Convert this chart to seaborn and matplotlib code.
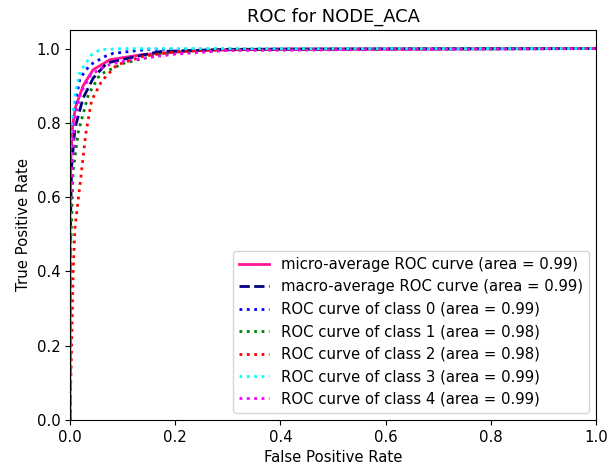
import numpy as np
import pandas as pd
import matplotlib
matplotlib.use('Agg')
import matplotlib.pyplot as plt
import seaborn as sns

# 读图估计的ROC曲线点 (FPR, TPR)
micro_fpr = [0.0, 0.0, 0.002, 0.005, 0.01, 0.025, 0.044, 0.076, 0.139, 0.25, 0.4, 1.0]
micro_tpr = [0.0, 0.55, 0.72, 0.79, 0.84, 0.90, 0.943, 0.97, 0.984, 0.995, 0.999, 1.0]

macro_fpr = [0.0, 0.0, 0.003, 0.0095, 0.025, 0.044, 0.07, 0.127, 0.171, 0.3, 1.0]
macro_tpr = [0.0, 0.45, 0.68, 0.786, 0.867, 0.92, 0.961, 0.979, 0.992, 0.998, 1.0]

class0_fpr = [0.0, 0.0, 0.003, 0.008, 0.019, 0.038, 0.067, 0.082, 0.15, 1.0]
class0_tpr = [0.0, 0.55, 0.75, 0.84, 0.92, 0.956, 0.979, 0.987, 0.998, 1.0]

class1_fpr = [0.0, 0.0, 0.006, 0.016, 0.035, 0.057, 0.101, 0.171, 0.3, 1.0]
class1_tpr = [0.0, 0.4, 0.67, 0.777, 0.876, 0.93, 0.96, 0.984, 0.996, 1.0]

class2_fpr = [0.0, 0.003, 0.006, 0.0095, 0.022, 0.03, 0.041, 0.06, 0.089, 0.139, 0.2, 0.3, 1.0]
class2_tpr = [0.0, 0.2, 0.4, 0.518, 0.67, 0.77, 0.86, 0.912, 0.956, 0.979, 0.992, 0.998, 1.0]

class3_fpr = [0.0, 0.0, 0.003, 0.01, 0.019, 0.041, 0.057, 0.1, 1.0]
class3_tpr = [0.0, 0.6, 0.777, 0.88, 0.938, 0.983, 0.997, 1.0, 1.0]

class4_fpr = [0.0, 0.0, 0.002, 0.008, 0.02, 0.04, 0.07, 0.108, 0.2, 0.3, 1.0]
class4_tpr = [0.0, 0.45, 0.6, 0.8, 0.88, 0.93, 0.955, 0.968, 0.985, 0.995, 1.0]

class_aucs = [0.99, 0.98, 0.98, 0.99, 0.99]
micro_auc = 0.99
macro_auc = 0.99


def draw_curve(ax, fpr, tpr, label, color, ls, lw=2):
    sns.lineplot(x=fpr, y=tpr, ax=ax, sort=False, estimator=None,
                 color=color, linestyle=ls, linewidth=lw, label=label)


def main():
    plt.rcParams['font.size'] = 10.7
    fig = plt.figure(figsize=(6.16, 4.70), dpi=100)
    ax = fig.add_axes([0.1136, 0.1064, 0.8539, 0.8298])

    draw_curve(ax, micro_fpr, micro_tpr,
               f'micro-average ROC curve (area = {micro_auc:.2f})', 'deeppink', '-')
    draw_curve(ax, macro_fpr, macro_tpr,
               f'macro-average ROC curve (area = {macro_auc:.2f})', 'navy', '--')

    class_curves = [(class0_fpr, class0_tpr), (class1_fpr, class1_tpr),
                    (class2_fpr, class2_tpr), (class3_fpr, class3_tpr),
                    (class4_fpr, class4_tpr)]
    colors = ['blue', 'green', 'red', 'cyan', 'magenta']
    for i, ((fpr, tpr), c) in enumerate(zip(class_curves, colors)):
        draw_curve(ax, fpr, tpr,
                   f'ROC curve of class {i} (area = {class_aucs[i]:.2f})', c, ':')

    ax.set_xlim(0.0, 1.0)
    ax.set_ylim(0.0, 1.05)
    ax.set_xlabel('False Positive Rate')
    ax.set_ylabel('True Positive Rate')
    ax.set_title('ROC for NODE_ACA')
    ax.legend(loc='lower right')
    fig.savefig('out.png', dpi=100)
    plt.close(fig)


if __name__ == '__main__':
    main()
